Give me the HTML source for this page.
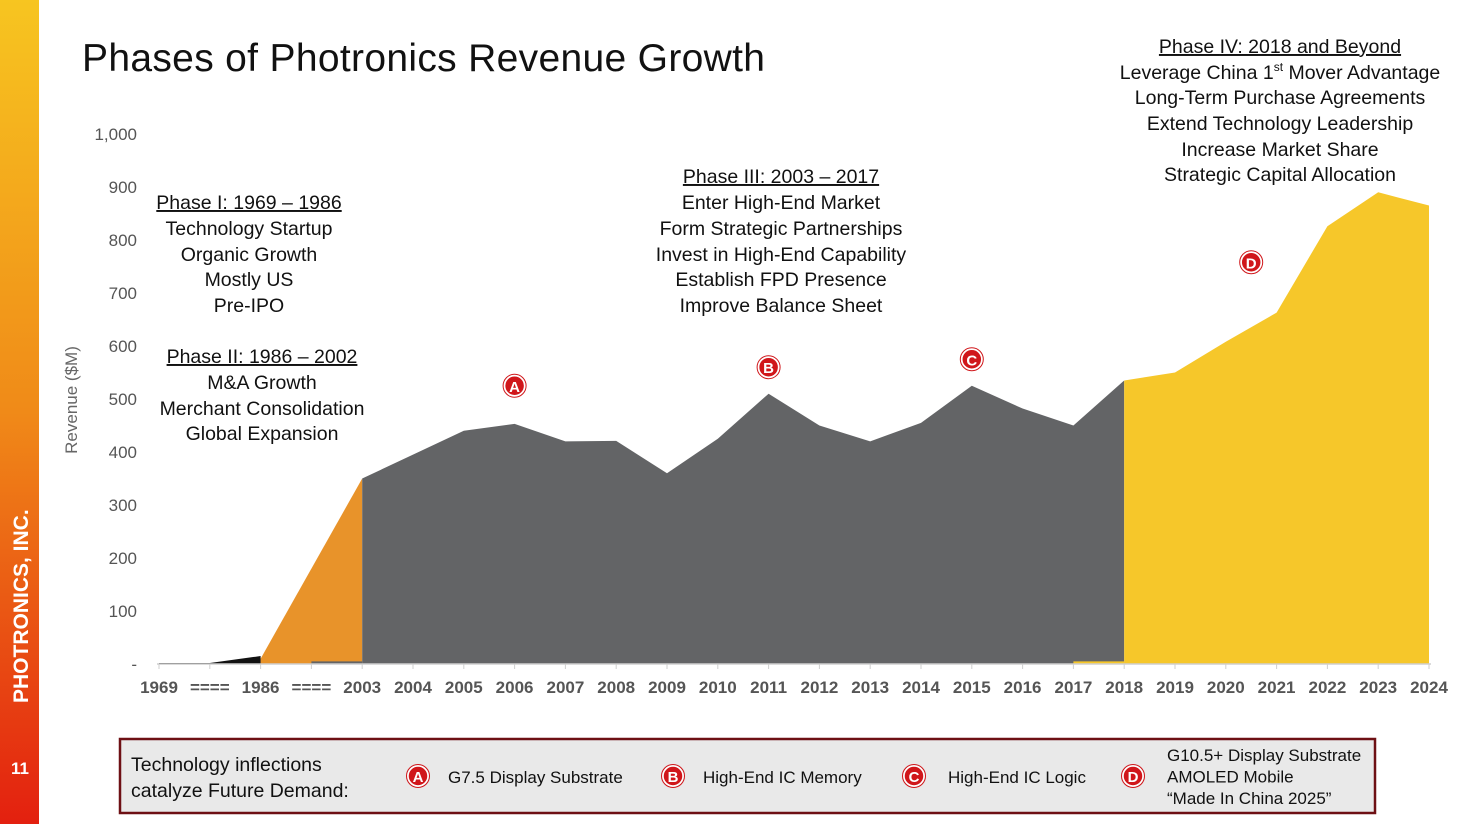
<!DOCTYPE html>
<html><head><meta charset="utf-8">
<style>
html,body{margin:0;padding:0;background:#fff;}
body{width:1467px;height:824px;overflow:hidden;position:relative;font-family:"Liberation Sans",sans-serif;}
svg{position:absolute;left:0;top:0;}
</style></head>
<body>
<svg width="1467" height="824" viewBox="0 0 1467 824">
<defs>
<linearGradient id="sb" x1="0" y1="0" x2="0" y2="1">
<stop offset="0" stop-color="#f7c520"/><stop offset="0.5" stop-color="#f08a18"/><stop offset="1" stop-color="#e3200f"/>
</linearGradient>
</defs>
<rect x="0" y="0" width="39" height="824" fill="url(#sb)"/>
<text transform="translate(28,703) rotate(-90)" font-size="21" font-weight="bold" fill="#fff">PHOTRONICS, INC.</text>
<text x="11" y="774" font-size="17" font-weight="bold" fill="#fff">11</text>
<text x="82" y="71" font-size="39" fill="#111" textLength="683">Phases of Photronics Revenue Growth</text>
<g id="chart"></g>
<text transform="translate(77,400) rotate(-90)" font-size="17" fill="#666" text-anchor="middle">Revenue ($M)</text>
<g font-size="19.5" fill="#111" text-anchor="middle">
<text x="249" y="209" text-decoration="underline">Phase I: 1969 – 1986</text>
<text x="249" y="235">Technology Startup</text>
<text x="249" y="261">Organic Growth</text>
<text x="249" y="286">Mostly US</text>
<text x="249" y="312">Pre-IPO</text>
<text x="262" y="363" text-decoration="underline">Phase II: 1986 – 2002</text>
<text x="262" y="389">M&amp;A Growth</text>
<text x="262" y="415">Merchant Consolidation</text>
<text x="262" y="440">Global Expansion</text>
<text x="781" y="183" text-decoration="underline">Phase III: 2003 – 2017</text>
<text x="781" y="209">Enter High-End Market</text>
<text x="781" y="235">Form Strategic Partnerships</text>
<text x="781" y="261">Invest in High-End Capability</text>
<text x="781" y="286">Establish FPD Presence</text>
<text x="781" y="312">Improve Balance Sheet</text>
<text x="1280" y="53" text-decoration="underline">Phase IV: 2018 and Beyond</text>
<text x="1280" y="79">Leverage China 1<tspan font-size="12" dy="-8">st</tspan><tspan dy="8"> Mover Advantage</tspan></text>
<text x="1280" y="104">Long-Term Purchase Agreements</text>
<text x="1280" y="130">Extend Technology Leadership</text>
<text x="1280" y="156">Increase Market Share</text>
<text x="1280" y="181">Strategic Capital Allocation</text>
</g>
<g id="markers"></g>
<rect x="120" y="739" width="1255" height="74" fill="#e9e9e9" stroke="#6e1014" stroke-width="2.5"/>
<g font-size="19.5" fill="#111">
<text x="131" y="771">Technology inflections</text>
<text x="131" y="797">catalyze Future Demand:</text>
</g>
<g id="legend" font-size="17" fill="#111"></g>
</svg>
<script>
const categories=["1969","====","1986","====","2003","2004","2005","2006","2007","2008","2009","2010","2011","2012","2013","2014","2015","2016","2017","2018","2019","2020","2021","2022","2023","2024"];
const phase1Values=[2,2,15,null,null,null,null,null,null,null,null,null,null,null,null,null,null,null,null,null,null,null,null,null,null,null];
const phase2Values=[null,null,10,null,350,null,null,null,null,null,null,null,null,null,null,null,null,null,null,null,null,null,null,null,null,null];
const phase3StripValues=[null,null,null,5,5,null,null,null,null,null,null,null,null,null,null,null,null,null,null,null,null,null,null,null,null,null];
const phase3Values=[null,null,null,null,350,395,440,453,420,421,360,425,510,450,420,455,525,482,450,535,null,null,null,null,null,null];
const phase4StripValues=[null,null,null,null,null,null,null,null,null,null,null,null,null,null,null,null,null,null,5,5,null,null,null,null,null,null];
const phase4Values=[null,null,null,null,null,null,null,null,null,null,null,null,null,null,null,null,null,null,null,535,550,608,663,826,890,865];
const yTicks=[0,100,200,300,400,500,600,700,800,900,1000];
const yTickLabels=["-","100","200","300","400","500","600","700","800","900","1,000"];
const markerLabels=["A","B","C","D"];
const markerYears=["2006","2011","2015","2020.5"];
const markerValues=[525,560,575,758];
const legendTexts=[["G7.5 Display Substrate"],["High-End IC Memory"],["High-End IC Logic"],["G10.5+ Display Substrate","AMOLED Mobile","“Made In China 2025”"]];

const NS="http://www.w3.org/2000/svg";
const x0=159,step=50.8,yBase=664,yScale=0.53;
const X=i=>x0+i*step;
const Y=v=>yBase-v*yScale;
const xYear=s=>{const f=parseFloat(s);return X(4+(f-2003));};
function mk(tag,attrs,parent){const e=document.createElementNS(NS,tag);for(const k in attrs)e.setAttribute(k,attrs[k]);parent.appendChild(e);return e;}
const chart=document.getElementById('chart');
for(let i=0;i<yTicks.length;i++){
 const t=mk('text',{x:137,y:Y(yTicks[i])+6,'font-size':17,fill:'#555','text-anchor':'end'},chart);
 t.textContent=yTickLabels[i];
 
 
}
function area(vals,color,name){
 const idx=[];vals.forEach((v,i)=>{if(v!==null)idx.push(i);});
 if(!idx.length)return;
 let d='M'+X(idx[0])+','+yBase;
 idx.forEach(i=>{d+=' L'+X(i)+','+Y(vals[i]);});
 d+=' L'+X(idx[idx.length-1])+','+yBase+' Z';
 const p=mk('path',{d:d,fill:color},chart);
 
 
}
area(phase2Values,'#e8932a','phase-2-area');
area(phase3StripValues,'#636466','phase-3-strip');
area(phase3Values,'#636466','phase-3-area');
area(phase4StripValues,'#f6c72a','phase-4-strip');
area(phase4Values,'#f6c72a','phase-4-area');
area(phase1Values,'#111','phase-1-area');
const ax=mk('line',{x1:X(0)-2,x2:X(categories.length-1)+2,y1:yBase,y2:yBase,stroke:'#cfcfcf','stroke-width':1.5},chart);


categories.forEach((c,i)=>{
 const tk=mk('line',{x1:X(i),x2:X(i),y1:yBase,y2:yBase+5,stroke:'#cfcfcf'},chart);
 
 
 const t=mk('text',{x:X(i),y:693,'font-size':17,'font-weight':'bold',fill:'#555','text-anchor':'middle'},chart);
 t.textContent=c;
 
 
});
function marker(cx,cy,l,parent,name){
 const g=mk('g',{},parent);
 
 
 mk('circle',{cx:cx,cy:cy,r:10,fill:'#d0161a',stroke:'#fff','stroke-width':1.5},g);
 mk('circle',{cx:cx,cy:cy,r:11.5,fill:'none',stroke:'#d0161a','stroke-width':1},g);
 const t=mk('text',{x:cx,y:cy+6,'font-size':15,'font-weight':'bold',fill:'#fff','text-anchor':'middle'},g);
 t.textContent=l;
}
const mg=document.getElementById('markers');
markerLabels.forEach((l,i)=>marker(xYear(markerYears[i]),Y(markerValues[i]),l,mg,'inflection-marker-'+l.toLowerCase()));
const lg=document.getElementById('legend');
const lmx=[418,673,914,1133],ltx=[448,703,948,1167];
legendTexts.forEach((lines,i)=>{
 marker(lmx[i],776,markerLabels[i],lg,'legend-marker-'+markerLabels[i].toLowerCase());
 const y0=lines.length===1?783:761;
 lines.forEach((s,j)=>{
  const t=mk('text',{x:ltx[i],y:y0+j*21.5},lg);
  t.textContent=s;
  
  
 });
});
</script>
</body></html>
